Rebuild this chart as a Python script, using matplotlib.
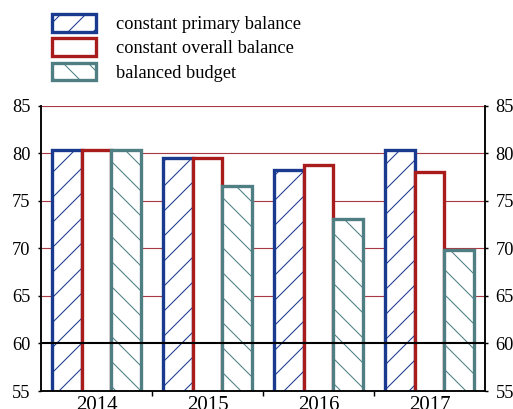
import matplotlib.pyplot as plt
import numpy as np

plt.rcParams['font.family'] = ['Liberation Serif', 'DejaVu Serif']
plt.rcParams['hatch.linewidth'] = 0.5

years = ['2014', '2015', '2016', '2017']
primary = [80.3, 79.5, 78.2, 80.3]
overall = [80.3, 79.5, 78.8, 78.0]
balanced = [80.3, 76.6, 73.1, 69.8]
labels = ['constant primary balance', 'constant overall balance', 'balanced budget']

blue = '#1a3a8f'
red = '#a81c1c'
teal = '#4f7f83'

DPI = 150
fig = plt.figure(figsize=(513 / DPI, 409 / DPI), dpi=DPI)
ax = fig.add_axes([41 / 513, 1 - 391 / 409, (485 - 41) / 513, (391 - 105.7) / 409])

x = np.arange(len(years))
w = 0.27
lw = 1.6
ax.bar(x - w, primary, w, facecolor='white', edgecolor=blue, linewidth=lw, hatch='//', label=labels[0], zorder=2)
ax.bar(x, overall, w, facecolor='white', edgecolor=red, linewidth=lw, label=labels[1], zorder=2)
ax.bar(x + w, balanced, w, facecolor='white', edgecolor=teal, linewidth=lw, hatch='\\\\', label=labels[2], zorder=2)

for yv in [65, 70, 75, 80, 85]:
    ax.axhline(yv, color='#a83a44', linewidth=0.55, zorder=1)
ax.axhline(60, color='black', linewidth=1.0, zorder=3)

ax.set_xlim(-0.5, 3.5)
ax.set_ylim(55, 85)
ax.set_yticks([55, 60, 65, 70, 75, 80, 85])
ax.set_xticks([0.5, 1.5, 2.5])
ax.set_xticks(x, minor=True)
ax.set_xticklabels([])
ax.set_xticklabels(years, minor=True)
ax.tick_params(axis='x', which='major', length=2.5, width=0.7, direction='out')
ax.tick_params(axis='x', which='minor', length=0, pad=2.5)
ax.tick_params(axis='y', left=True, right=True, labelleft=True, labelright=True,
               length=1.5, width=0.7, pad=3.5, direction='out')
ax.tick_params(labelsize=8.8)

ax.spines['top'].set_visible(False)
for s in ['left', 'right', 'bottom']:
    ax.spines[s].set_linewidth(0.9)

fig.legend(loc='upper left', bbox_to_anchor=(43 / 513, 1 - 5 / 409), frameon=False,
           fontsize=8.8, borderpad=0, handlelength=2.4, handleheight=1.1,
           handletextpad=1.1, labelspacing=0.28)

fig.savefig('out.png', dpi=DPI)
